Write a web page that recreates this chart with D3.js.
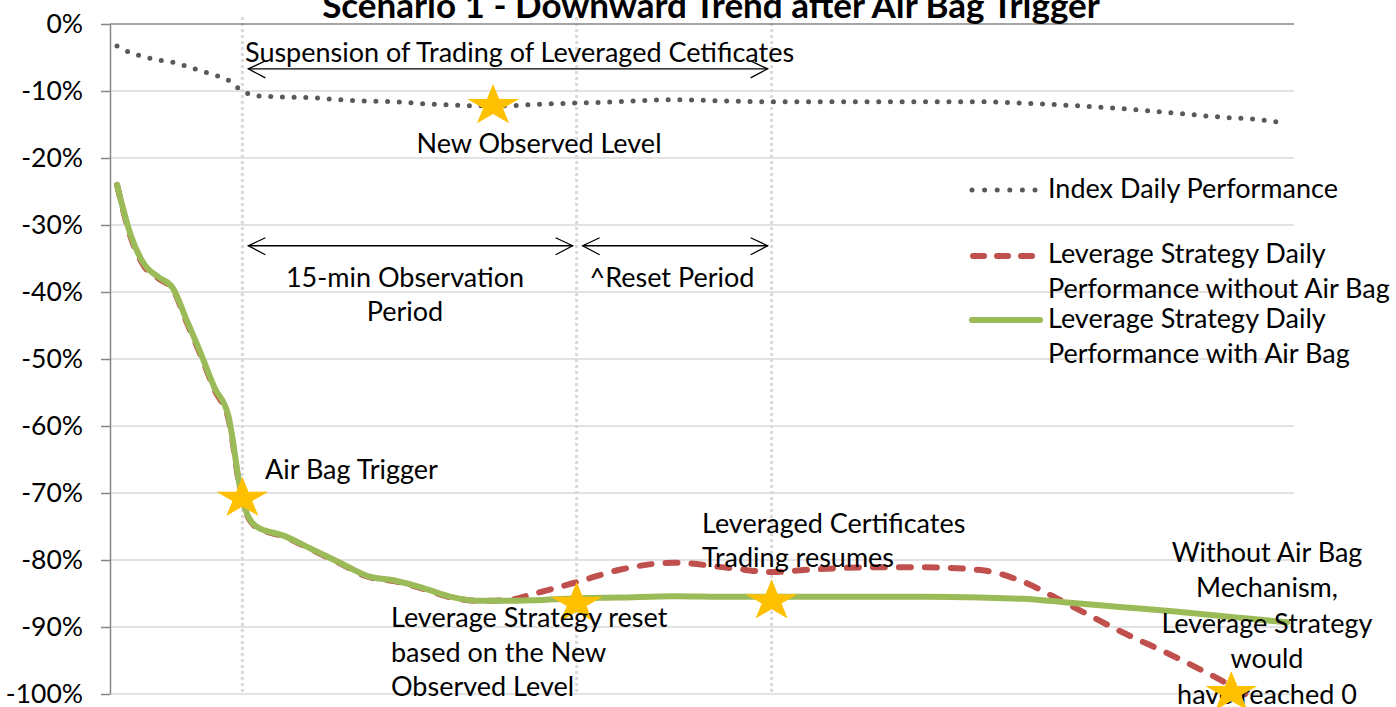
<!DOCTYPE html>
<html>
<head>
<meta charset="utf-8">
<script src="https://cdn.jsdelivr.net/npm/d3@7"></script>
<style>
body { margin: 0; background: #fff; }
svg text { font-family: Lato, "Noto Sans", sans-serif; fill: #000; }
</style>
</head>
<body>
<div id="chart"></div>
<script>
// x categories (time steps) and the three series, in %
const steps = [0, 1, 2, 3, 4, 5, 6, 7, 8, 9, 10, 12, 14, 16, 18, 20, 22, 24, 26, 28, 30, 33, 36, 40, 44, 47, 50, 54, 58, 62, 65, 68, 72, 76, 80, 81, 84];
const indexPerf = [-3.3, -4.3, -4.9, -5.4, -5.7, -6.3, -7.0, -7.6, -8.4, -10.0, -10.7, -10.9, -11.0, -11.3, -11.5, -11.6, -11.9, -12.1, -12.2, -12.2, -12.0, -11.8, -11.6, -11.3, -11.5, -11.6, -11.6, -11.6, -11.6, -11.6, -11.8, -12.1, -12.6, -13.3, -14.0, -14.1, -14.8];
const withoutAirBag = [-24.0, -31.9, -36.3, -38.0, -39.6, -44.5, -49.4, -54.6, -58.9, -71.2, -75.1, -76.5, -78.5, -80.5, -82.5, -83.2, -84.3, -85.6, -86.1, -86.0, -85.0, -83.3, -81.5, -80.4, -81.2, -81.8, -81.4, -81.1, -81.1, -81.5, -83.2, -86.3, -90.6, -94.5, -98.8, -100.0, null];
const withAirBag = [-24.0, -31.6, -36.0, -37.8, -39.4, -44.2, -49.1, -54.3, -58.5, -71.0, -75.0, -76.4, -78.4, -80.4, -82.4, -83.1, -84.2, -85.5, -86.1, -86.1, -86.0, -85.7, -85.6, -85.4, -85.5, -85.5, -85.5, -85.5, -85.5, -85.6, -85.8, -86.3, -87.0, -87.7, -88.5, -88.7, -89.3];
const yTicks = [0, -10, -20, -30, -40, -50, -60, -70, -80, -90, -100];

// events on the time axis and the stars
const phaseSteps = [9, 33, 47];
const starSteps = [9, 27, 33, 47, 80];
const starValues = [-70.8, -12.2, -86.5, -86.1, -99.8];
// arrows: [from step, to step, level %]
const arrows = [[9, 47, -6.7], [9, 33, -33.1], [33, 47, -33.1]];

const width = 1396, height = 707;

const svg = d3.select("#chart").append("svg")
    .attr("width", width)
    .attr("height", height);

const x = d3.scaleLinear().domain([0, 84]).range([117, 1287]);
const y = d3.scaleLinear().domain([0, -100]).range([24, 694]);
const left = 110, right = 1294;

// grid
svg.append("g")
    .selectAll("line")
    .data(yTicks.slice(1))
    .enter().append("line")
    .attr("x1", left).attr("x2", right)
    .attr("y1", d => y(d)).attr("y2", d => y(d))
    .attr("stroke", "#d9d9d9")
    .attr("stroke-width", 1.3);

// phase lines
svg.append("g")
    .selectAll("line")
    .data(phaseSteps)
    .enter().append("line")
    .attr("x1", d => x(d)).attr("x2", d => x(d))
    .attr("y1", 17).attr("y2", 692)
    .attr("stroke", "#d9d9d9")
    .attr("stroke-width", 3)
    .attr("stroke-dasharray", "3 3");

// axes
const yAxis = svg.append("g")
    .attr("transform", `translate(${left},0)`)
    .call(d3.axisLeft(y).tickValues(yTicks).tickSize(9).tickSizeOuter(0).tickPadding(18).tickFormat(d => d + "%"));
yAxis.select(".domain").attr("stroke", "#868686").attr("stroke-width", 1.5);
yAxis.selectAll(".tick line").attr("stroke", "#868686").attr("stroke-width", 1.5);
yAxis.selectAll(".tick text").attr("font-size", 26.5).attr("font-family", "Lato").attr("fill", "#000");

svg.append("line")
    .attr("x1", left).attr("x2", right)
    .attr("y1", y(0)).attr("y2", y(0))
    .attr("stroke", "#868686")
    .attr("stroke-width", 1.5);

// series
const rows = steps.map((s, i) => ({ s: s, idx: indexPerf[i], red: withoutAirBag[i], green: withAirBag[i] }));

function lineFor(key) {
    return d3.line()
        .defined(d => d[key] != null)
        .x(d => x(d.s))
        .y(d => y(d[key]))
        .curve(d3.curveMonotoneX);
}

svg.append("path")
    .datum(rows)
    .attr("d", lineFor("idx"))
    .attr("fill", "none")
    .attr("stroke", "#595959")
    .attr("stroke-width", 5)
    .attr("stroke-linecap", "round")
    .attr("stroke-dasharray", "0 11.7");

svg.append("path")
    .datum(rows)
    .attr("d", lineFor("red"))
    .attr("fill", "none")
    .attr("stroke", "#c0504d")
    .attr("stroke-width", 6)
    .attr("stroke-linecap", "round")
    .attr("stroke-dasharray", "12 14");

svg.append("path")
    .datum(rows)
    .attr("d", lineFor("green"))
    .attr("fill", "none")
    .attr("stroke", "#9bbb59")
    .attr("stroke-width", 6)
    .attr("stroke-linecap", "round");

// arrows
function arrowHead(tx, ty, dir) {
    return `M${tx + dir * 17},${ty - 8}L${tx},${ty}L${tx + dir * 17},${ty + 9}`;
}
const ag = svg.append("g").attr("stroke", "#000").attr("stroke-width", 1.3).attr("fill", "none");
arrows.forEach(a => {
    const x1 = x(a[0]) + 6, x2 = x(a[1]) - 4, yy = y(a[2]);
    ag.append("line").attr("x1", x1).attr("x2", x2).attr("y1", yy).attr("y2", yy);
    ag.append("path").attr("d", arrowHead(x1, yy, 1));
    ag.append("path").attr("d", arrowHead(x2, yy, -1));
});

// stars
function starPath(cx, cy) {
    const sx = 27.3, sy = 21.7, inner = 0.382;
    const pts = [];
    for (let i = 0; i < 10; i++) {
        const r = i % 2 ? inner : 1;
        const a = -Math.PI / 2 + i * Math.PI / 5;
        pts.push([cx + sx * r * Math.cos(a), cy + sy * r * Math.sin(a)]);
    }
    return "M" + pts.join("L") + "Z";
}
const stars = starSteps.map((s, i) => ({ s: s, v: starValues[i] }));
svg.append("g")
    .selectAll("path")
    .data(stars.slice(0, 4))
    .enter().append("path")
    .attr("d", d => starPath(x(d.s), y(d.v)))
    .attr("fill", "#ffc000");

// annotations
function label(lines, px, py, anchor, lh) {
    const t = svg.append("text")
        .attr("font-size", 27)
        .attr("text-anchor", anchor);
    lines.forEach((l, i) => {
        t.append("tspan").attr("x", px).attr("y", py + i * lh).text(l);
    });
}

svg.append("text")
    .attr("x", 711).attr("y", 18)
    .attr("text-anchor", "middle")
    .attr("font-size", 35)
    .attr("font-weight", "bold")
    .text("Scenario 1 - Downward Trend after Air Bag Trigger");

label(["Suspension of Trading of Leveraged Cetificates"], 245, 62, "start", 0);
label(["New Observed Level"], 539, 153, "middle", 0);
label(["15-min Observation", "Period"], 405, 287, "middle", 34);
label(["^Reset Period"], 672, 287, "middle", 0);
label(["Air Bag Trigger"], 265, 479, "start", 0);
label(["Leveraged Certificates", "Trading resumes"], 702, 533, "start", 34);
label(["Leverage Strategy reset", "based on the New", "Observed Level"], 391, 627, "start", 34.5);
label(["Without Air Bag", "Mechanism,", "Leverage Strategy", "would", "have reached 0"], 1267, 562, "middle", 35.4);

svg.append("path")
    .datum(stars[4])
    .attr("d", d => starPath(x(d.s), y(d.v)))
    .attr("fill", "#ffc000");

// legend
const legend = svg.append("g");
legend.append("line")
    .attr("x1", 972).attr("x2", 1036).attr("y1", 190).attr("y2", 190)
    .attr("stroke", "#595959").attr("stroke-width", 5)
    .attr("stroke-linecap", "round").attr("stroke-dasharray", "0 12.6");
legend.append("line")
    .attr("x1", 973).attr("x2", 1033).attr("y1", 256).attr("y2", 256)
    .attr("stroke", "#c0504d").attr("stroke-width", 6)
    .attr("stroke-linecap", "round").attr("stroke-dasharray", "11 13");
legend.append("line")
    .attr("x1", 972).attr("x2", 1040).attr("y1", 320).attr("y2", 320)
    .attr("stroke", "#9bbb59").attr("stroke-width", 6)
    .attr("stroke-linecap", "round");

label(["Index Daily Performance"], 1048, 198, "start", 0);
label(["Leverage Strategy Daily", "Performance without Air Bag"], 1048, 263, "start", 35);
label(["Leverage Strategy Daily", "Performance with Air Bag"], 1048, 328, "start", 35);
</script>
</body>
</html>
